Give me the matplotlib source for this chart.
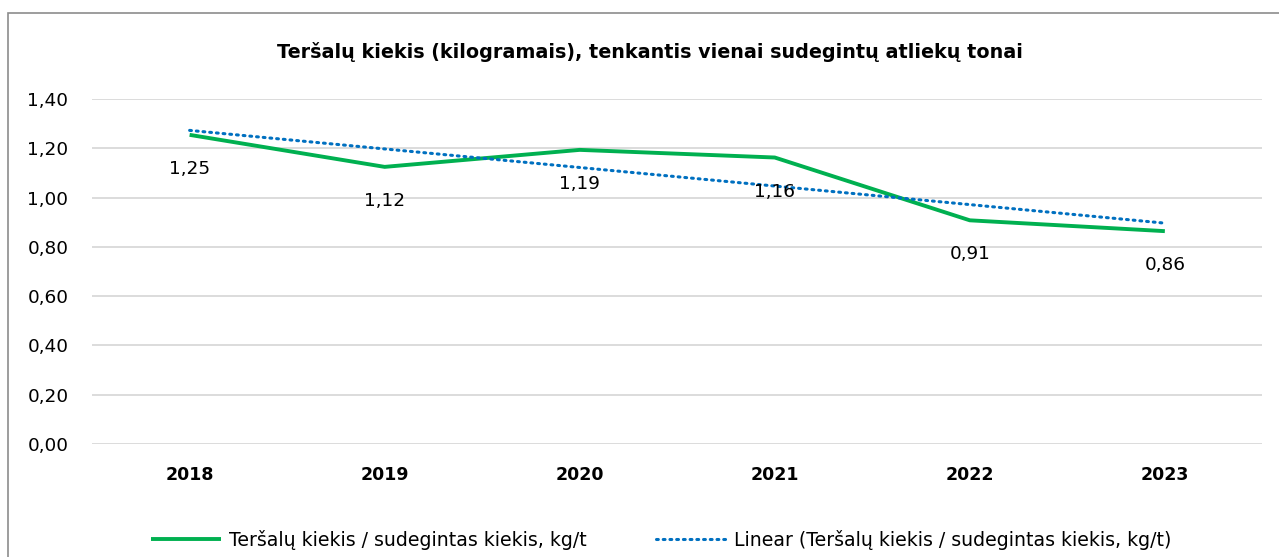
import matplotlib.pyplot as plt
import matplotlib.patches as patches
import numpy as np

years = ['2018', '2019', '2020', '2021', '2022', '2023']
values = [1.255, 1.125, 1.194, 1.163, 0.908, 0.864]
labels = ['1,25', '1,12', '1,19', '1,16', '0,91', '0,86']
yticks = [0.0, 0.2, 0.4, 0.6, 0.8, 1.0, 1.2, 1.4]

series_name = 'Teršalų kiekis / sudegintas kiekis, kg/t'
title = 'Teršalų kiekis (kilogramais), tenkantis vienai sudegintų atliekų tonai'

plt.rcParams['font.family'] = ['DejaVu Sans']

fig = plt.figure(figsize=(12.79, 5.57), dpi=100)
fig.patch.set_facecolor('white')
ax = fig.add_axes([0.072, 0.203, 0.915, 0.619])

# outer chart border
border = patches.Rectangle((8 / 1279, -0.05), 1.1, 1 - 13 / 557 + 0.05, transform=fig.transFigure,
                           fill=False, edgecolor='#8c8c8c', linewidth=1.2)
fig.patches.append(border)

x = np.arange(len(years))
ax.plot(x, values, color='#00B050', linewidth=2.8, label=series_name, solid_capstyle='butt', zorder=3)

# linear trendline like excel
k, b = np.polyfit(x, values, 1)
ax.plot(x, k * x + b, color='#0070C0', linewidth=2.2, linestyle=(0, (0.6, 1.6)),
        dash_capstyle='round', label='Linear (' + series_name + ')', zorder=4)

for xi, v, lab in zip(x, values, labels):
    ax.annotate(lab, (xi, v), xytext=(0, -34), textcoords='offset pixels',
                ha='center', va='center', fontsize=13.3, color='black', zorder=5)

ax.set_xlim(-0.5, len(years) - 0.5)
ax.set_ylim(0, 1.4)
ax.set_yticks(yticks)
ax.set_yticklabels([f'{t:.2f}'.replace('.', ',') for t in yticks], fontsize=13.3)
ax.set_xticks(x)
ax.set_xticklabels(years, fontsize=12.5, fontweight='bold')
ax.tick_params(axis='both', length=0)
ax.tick_params(axis='y', pad=17)
ax.tick_params(axis='x', pad=16)
ax.grid(axis='y', color='#D9D9D9', linewidth=1.3)
for s in ax.spines.values():
    s.set_visible(False)

fig.text(0.508, 1 - 52 / 557, title, ha='center', va='center', fontsize=13.8, fontweight='bold')

fig.legend(loc='center', bbox_to_anchor=(0.517, 1 - 540 / 557), ncol=2, frameon=False,
           fontsize=13.6, handlelength=3.7, columnspacing=3.7, handletextpad=0.4)

plt.savefig('out.png', dpi=100, facecolor='white')
plt.close()
